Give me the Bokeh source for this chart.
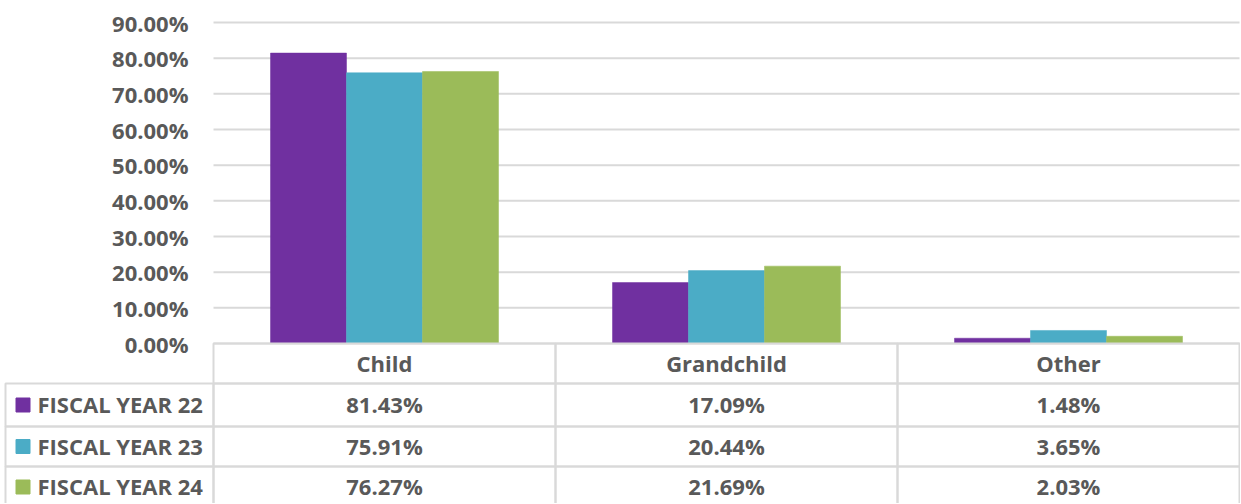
from bokeh.plotting import figure
from bokeh.models import ColumnDataSource, Range1d
from bokeh.core.properties import value
from bokeh.embed import file_html
from bokeh.resources import INLINE

# ---- data ----
categories = ["Child", "Grandchild", "Other"]
series_names = ["FISCAL YEAR 22", "FISCAL YEAR 23", "FISCAL YEAR 24"]
fy22 = [81.43, 17.09, 1.48]
fy23 = [75.91, 20.44, 3.65]
fy24 = [76.27, 21.69, 2.03]
y_ticks = [0, 10, 20, 30, 40, 50, 60, 70, 80, 90]
y_max = 90

# ---- layout / styles (pixels) ----
colors = ["#7030A0", "#4BACC6", "#9BBB59"]
FONT = "Open Sans"
FSIZE = "22px"
TXT = "#595959"
GRID = "#D9D9D9"

FIG_W, FIG_H = 1240, 503
PLOT_LEFT, PLOT_RIGHT = 213, 1239     # plot area / table data columns
TABLE_LEFT = 5                        # left edge of legend column
Y_TOP_TICK, Y_ZERO = 22, 343          # pixel rows of the top tick and of zero
ROW_EDGES = [0, 40, 83, 123, 164]     # table row edges, px below the zero line

col_px = (PLOT_RIGHT - PLOT_LEFT) / len(categories)
pct_px = (Y_ZERO - Y_TOP_TICK) / y_max

x_range = Range1d(-PLOT_LEFT / col_px, (FIG_W - PLOT_LEFT) / col_px)
y_range = Range1d(-(FIG_H - Y_ZERO) / pct_px, Y_ZERO / pct_px)

p = figure(x_range=x_range, y_range=y_range, frame_width=FIG_W, frame_height=FIG_H,
           min_border=0, x_axis_location=None, y_axis_location=None,
           output_backend="svg", toolbar_location=None)
p.xgrid.visible = False
p.ygrid.visible = False
p.outline_line_color = None
p.background_fill_color = "white"
p.border_fill_color = "white"
# table measured in pixels below the zero line (increasing downward)
p.extra_y_ranges = {"table": Range1d(start=FIG_H - Y_ZERO, end=-Y_ZERO)}

ncat = len(categories)
txt_kw = dict(text_font=value(FONT), text_font_style="bold", text_font_size=FSIZE,
              text_color=TXT, text_baseline="middle")

# ---- value axis: gridlines + labels ----
p.segment(x0=[0] * len(y_ticks), x1=[ncat] * len(y_ticks), y0=y_ticks, y1=y_ticks,
          line_color=GRID, line_width=2)
p.text(x=[0] * len(y_ticks), y=y_ticks, text=[f"{t:.2f}%" for t in y_ticks],
       x_offset=-25, text_align="right", **txt_kw)

# ---- bars ----
bar_w = 76 / col_px
series = [fy22, fy23, fy24]
for i, (vals, col) in enumerate(zip(series, colors)):
    src = ColumnDataSource(dict(x=[c + 0.5 + (i - 1) * bar_w for c in range(ncat)], top=vals))
    p.vbar(x="x", top="top", bottom=0, width=bar_w, source=src,
           fill_color=col, line_color=col, line_width=0.5)

# ---- data table ----
LW = (PLOT_LEFT - TABLE_LEFT) / col_px
mid = [(ROW_EDGES[k] + ROW_EDGES[k + 1]) / 2 for k in range(len(ROW_EDGES) - 1)]
# header cells
p.quad(left=list(range(ncat)), right=[c + 1 for c in range(ncat)],
       top=[ROW_EDGES[0]] * ncat, bottom=[ROW_EDGES[1]] * ncat, y_range_name="table",
       fill_color=None, line_color=GRID, line_width=2)
# body cells
L, R, T, B = [], [], [], []
for r in range(len(series)):
    for c in range(-1, ncat):
        L.append(-LW if c < 0 else c)
        R.append(c + 1)
        T.append(ROW_EDGES[r + 1])
        B.append(ROW_EDGES[r + 2])
p.quad(left=L, right=R, top=T, bottom=B, y_range_name="table",
       fill_color=None, line_color=GRID, line_width=2)

# header text
p.text(x=[c + 0.5 for c in range(ncat)], y=[mid[0]] * ncat, text=categories,
       y_range_name="table", text_align="center", y_offset=-1, **txt_kw)

# values
vx, vy, vt = [], [], []
for r, vals in enumerate(series):
    for c, v in enumerate(vals):
        vx.append(c + 0.5)
        vy.append(mid[r + 1])
        vt.append(f"{v:.2f}%")
p.text(x=vx, y=vy, text=vt, y_range_name="table", text_align="center", y_offset=-1, **txt_kw)

# legend keys + series names
ry = [mid[r + 1] for r in range(len(series))]
p.scatter(x=[-LW + 17.5 / col_px] * len(series), y=ry, y_range_name="table",
          marker="square", size=14, fill_color=colors, line_color=colors)
p.text(x=[-LW] * len(series), y=ry, text=series_names, x_offset=32,
       y_range_name="table", text_align="left", y_offset=-1, **txt_kw)

open("out.html", "w").write(file_html(p, INLINE))
